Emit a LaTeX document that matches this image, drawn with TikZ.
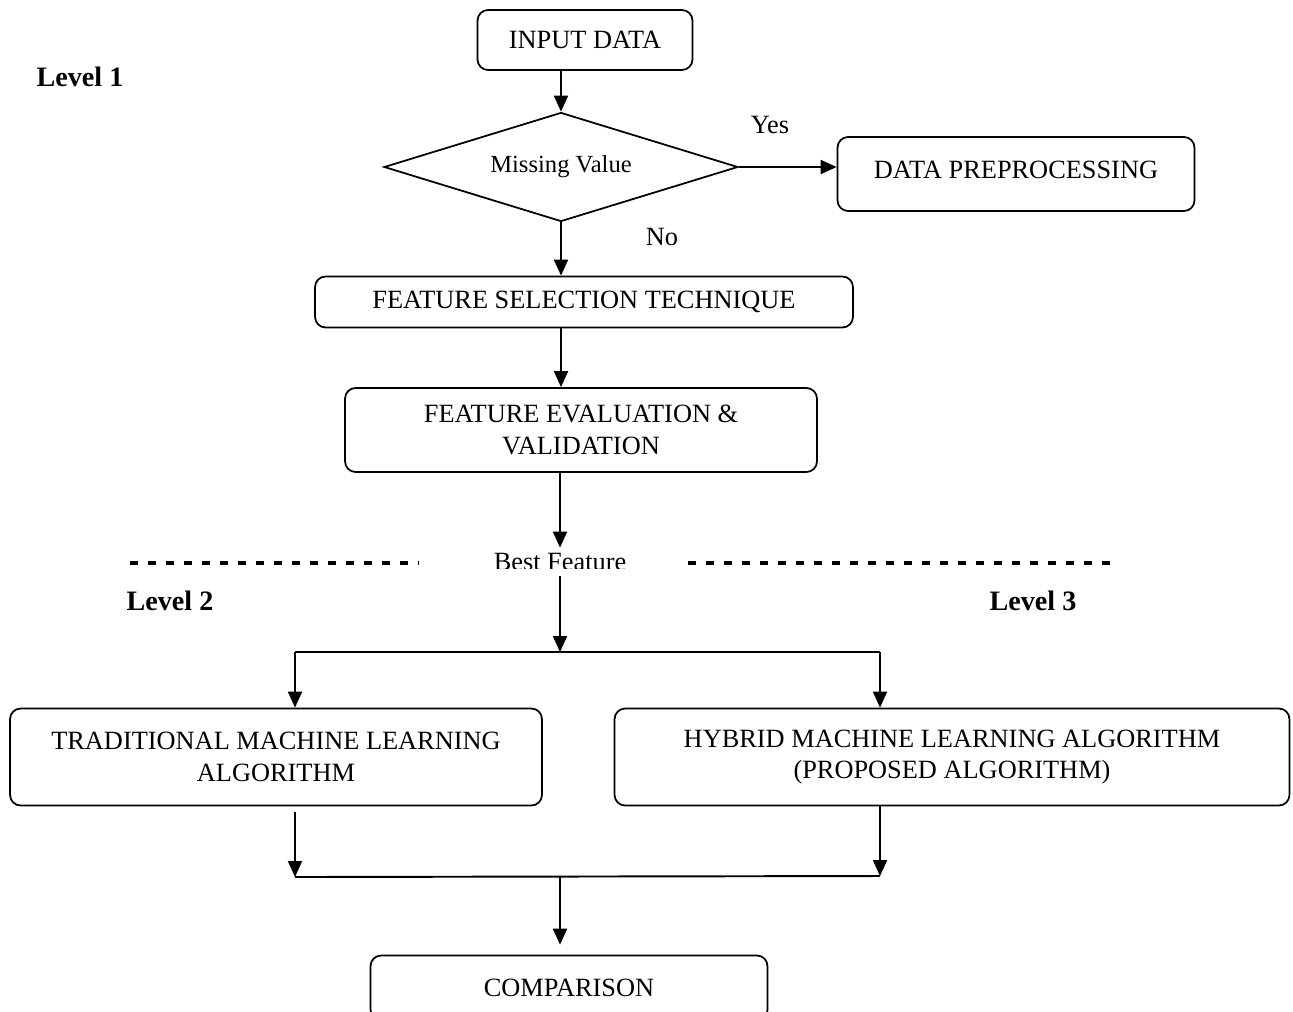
\documentclass[tikz,border=0pt]{standalone}
\usepackage{fontspec}
\setmainfont{Liberation Serif}
\usepackage{tikz}
\usetikzlibrary{arrows.meta, positioning, calc, shapes.geometric}
\tikzset{
  proc/.style={
    draw, rounded corners=6pt, line width=1pt, align=center,
    inner sep=2pt, font=\fontsize{15}{18}\selectfont
  },
  decide/.style={
    draw, diamond, aspect=3.25, line width=1pt, inner sep=0pt,
    minimum width=7.08cm, minimum height=2.18cm,
    font=\fontsize{14}{17}\selectfont
  },
  lbl/.style={font=\fontsize{15}{18}\selectfont, inner sep=3pt},
  level/.style={font=\fontsize{16}{19}\selectfont\bfseries},
  line/.style={line width=1.1pt},
  arrow/.style={-{Triangle[length=0.32cm, width=0.28cm]}, line width=1.1pt},
  sep/.style={line width=0.07cm, dash pattern=on 0.16cm off 0.2cm}
}

\begin{document}
\begin{tikzpicture}[x=0.02cm, y=-0.02cm]
  \useasboundingbox (0,0) rectangle (1293,1011);

  % level 1
  \node[level] (lv1) at (80,77) {Level 1};
  \node[proc, minimum width=4.3cm, minimum height=1.2cm] (inp) at (585,40) {INPUT DATA};
  \node[decide] (miss) at (561,167) {Missing Value};
  \node[proc, minimum width=7.14cm, minimum height=1.48cm] (prep) at (1016,174) {\raisebox{0.15cm}{DATA PREPROCESSING}};
  \node[lbl] (yes) at (770,125) {Yes};
  \node[lbl] (no) at (662,237) {No};
  \node[proc, minimum width=10.76cm, minimum height=1.02cm] (fsel) at (584,302) {FEATURE SELECTION TECHNIQUE};
  \node[proc, minimum width=9.44cm, minimum height=1.68cm] (feval) at (581,430) {FEATURE EVALUATION \&\\VALIDATION};

  \draw[arrow] (inp.south -| miss.north) -- (miss.north);
  \draw[arrow] (miss.east) -- (miss.east -| prep.west);
  \draw[arrow] (miss.south) -- (miss.south |- fsel.north);
  \draw[arrow] (fsel.south -| miss.south) -- (feval.north -| miss.south);

  % best feature, cut at the bottom
  \begin{scope}
    \clip (430,530) rectangle (690,568);
    \node[lbl] (best) at (560,562) {Best Feature};
  \end{scope}
  \draw[arrow] (feval.south -| best) -- (best.north);
  \draw[sep] (130,563) -- (418,563);
  \draw[sep] (688,563) -- (1110,563);

  % level 2 and 3
  \node[level] (lv2) at (170,601) {Level 2};
  \node[level] (lv3) at (1033,601) {Level 3};
  \node[proc, minimum width=10.64cm, minimum height=1.94cm] (trad) at (276,757) {TRADITIONAL MACHINE LEARNING\\ALGORITHM};
  \node[proc, minimum width=13.5cm, minimum height=1.94cm] (hyb) at (952,757) {HYBRID MACHINE LEARNING ALGORITHM\\(PROPOSED ALGORITHM)};

  \coordinate (split) at (560,652);
  \coordinate (splitL) at (295,652);
  \coordinate (splitR) at (880,652);
  \draw[arrow] (best.south) -- (split);
  \draw[line] (splitL) -- (splitR);
  \draw[arrow] (splitL) -- (splitL |- trad.north);
  \draw[arrow] (splitR) -- (splitR |- hyb.north);

  % comparison
  \node[proc, minimum width=7.94cm, minimum height=1.3cm] (comp) at (569,988) {COMPARISON};
  \coordinate (joinL) at (295,877);
  \coordinate (joinR) at (880,876);
  \coordinate (join) at (560,877);
  \draw[arrow] ([yshift=-0.12cm]trad.south -| joinL) -- (joinL);
  \draw[arrow] (hyb.south -| joinR) -- (joinR);
  \draw[line] (joinL) -- (joinR);
  \draw[arrow, shorten >=0.2cm] (join) -- (join |- comp.north);
\end{tikzpicture}
\end{document}
